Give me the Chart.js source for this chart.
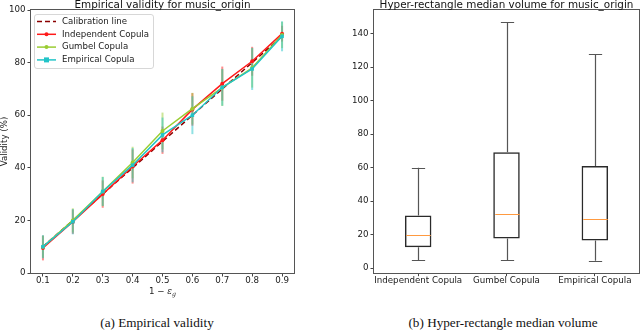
<!DOCTYPE html>
<html>
<head>
<meta charset="utf-8">
<script src="https://cdn.jsdelivr.net/npm/chart.js@4/dist/chart.umd.min.js"></script>
<style>
  html, body { margin: 0; padding: 0; background: #fff; width: 640px; height: 333px; overflow: hidden; }
  #wrapL { position: absolute; left: 0; top: 0; width: 320px; height: 300px; }
  #wrapR { position: absolute; left: 320px; top: 0; width: 320px; height: 300px; }
  .cap { position: absolute; top: 315px; font-family: "Liberation Serif", "Times New Roman", serif; font-size: 13.2px; color: #111; text-align: center; white-space: nowrap; }
</style>
</head>
<body>
<div id="wrapL"><canvas id="left" width="320" height="300"></canvas></div>
<div id="wrapR"><canvas id="right" width="320" height="300"></canvas></div>
<div class="cap" style="left:57px;width:200px;">(a) Empirical validity</div>
<div class="cap" style="left:383px;width:240px;">(b) Hyper-rectangle median volume</div>
<script>
// ---------- Data: left panel (empirical validity) ----------
const xValues = [0.1, 0.2, 0.3, 0.4, 0.5, 0.6, 0.7, 0.8, 0.9];
const xTickValues = [0.1, 0.2, 0.3, 0.4, 0.5, 0.6, 0.7, 0.8, 0.9];
const yTickValues = [0, 20, 40, 60, 80, 100];
const calibration = [10, 20, 30, 40, 50, 60, 70, 80, 90];
const independent = [9.5, 19.5, 30, 40.5, 50.5, 62.2, 72, 80.5, 91];
const independentErr = [4.7, 4.6, 5.2, 6.5, 5.2, 6.2, 6.5, 5.5, 3.0];
const gumbel = [10, 20, 31, 42, 54, 62.5, 70.5, 78, 90.5];
const gumbelErr = [4.2, 4.6, 5.6, 6.0, 7.0, 6.0, 7.0, 7.5, 5.0];
const empirical = [10, 19.5, 31, 41, 52.5, 60, 70.6, 77.6, 90];
const empiricalErr = [4.4, 4.8, 5.5, 6.5, 6.6, 7.2, 7.0, 8.0, 5.7];

// ---------- Data: right panel (box plot) ----------
const boxLabels = ['Independent Copula', 'Gumbel Copula', 'Empirical Copula'];
const whiskerLow = [4.8, 4.8, 4.4];
const quartile1 = [12.5, 17.7, 16.5];
const medians = [19.7, 32.2, 29.2];
const quartile3 = [31.4, 69.2, 61.0];
const whiskerHigh = [60.0, 147.0, 127.8];
const boxYTicks = [0, 20, 40, 60, 80, 100, 120, 140];

const TICK_FONT = { family: 'DejaVu Sans', size: 8.7 };
const TEXT_COLOR = '#1a1a1a';

function pts(ys) { return xValues.map((x, i) => ({ x: x, y: ys[i] })); }

// ---------- Left chart ----------
const seriesL = [
  { label: 'Calibration line', data: calibration, err: null, color: '#8b0000', dash: [5, 3], style: false, r: 0 },
  { label: 'Independent Copula', data: independent, err: independentErr, color: '#ff1a1a', dash: [], style: 'circle', r: 2 },
  { label: 'Gumbel Copula', data: gumbel, err: gumbelErr, color: '#9acd32', dash: [], style: 'circle', r: 2 },
  { label: 'Empirical Copula', data: empirical, err: empiricalErr, color: '#22c4c8', dash: [], style: 'rect', r: 2.5 }
];

const leftPlugin = {
  id: 'leftDecor',
  beforeDatasetsDraw(chart) {
    const ctx = chart.ctx, xs = chart.scales.x, ys = chart.scales.y;
    ctx.save();
    ctx.globalAlpha = 0.5;
    ctx.lineWidth = 2;
    seriesL.forEach(s => {
      if (!s.err) return;
      ctx.strokeStyle = s.color;
      s.data.forEach((v, i) => {
        const px = xs.getPixelForValue(xValues[i]);
        ctx.beginPath();
        ctx.moveTo(px, ys.getPixelForValue(v - s.err[i]));
        ctx.lineTo(px, ys.getPixelForValue(v + s.err[i]));
        ctx.stroke();
      });
    });
    ctx.restore();
  },
  afterDraw(chart) {
    const ctx = chart.ctx, a = chart.chartArea;
    ctx.save();
    // frame
    ctx.strokeStyle = '#555';
    ctx.lineWidth = 1;
    ctx.strokeRect(Math.round(a.left) - 0.5, Math.round(a.top) - 0.5, Math.round(a.right - a.left) + 1, Math.round(a.bottom - a.top) + 1);
    // title
    ctx.fillStyle = '#111';
    ctx.font = '10.4px "DejaVu Sans"';
    ctx.textAlign = 'center';
    ctx.textBaseline = 'alphabetic';
    ctx.fillText('Empirical validity for music_origin', (a.left + a.right) / 2, 8);
    // y label
    ctx.save();
    ctx.translate(5, (a.top + a.bottom) / 2);
    ctx.rotate(-Math.PI / 2);
    ctx.textBaseline = 'middle';
    ctx.font = '8.7px "DejaVu Sans"';
    ctx.fillStyle = TEXT_COLOR;
    ctx.fillText('Validity (%)', 0, 0);
    ctx.restore();
    // x label: 1 − ε_g
    const cx = (a.left + a.right) / 2, by = 294;
    const p1 = '1 \u2212 ';
    ctx.font = '8.7px "DejaVu Sans"';
    const w1 = ctx.measureText(p1).width;
    ctx.font = 'italic 8.7px "DejaVu Serif"';
    const w2 = ctx.measureText('\u03b5').width;
    ctx.font = 'italic 6.2px "DejaVu Serif"';
    const w3 = ctx.measureText('g').width;
    let x0 = cx - (w1 + w2 + w3) / 2;
    ctx.textAlign = 'left';
    ctx.fillStyle = TEXT_COLOR;
    ctx.font = '8.7px "DejaVu Sans"';
    ctx.fillText(p1, x0, by);
    ctx.font = 'italic 8.7px "DejaVu Serif"';
    ctx.fillText('\u03b5', x0 + w1, by);
    ctx.font = 'italic 6.2px "DejaVu Serif"';
    ctx.fillText('g', x0 + w1 + w2, by + 2);
    // legend
    const lx = 34, ly = 14, lw = 119, lh = 54;
    ctx.globalAlpha = 0.85;
    ctx.fillStyle = '#fff';
    ctx.strokeStyle = '#d0d0d0';
    ctx.beginPath();
    ctx.roundRect(lx + 0.5, ly + 0.5, lw, lh, 2.5);
    ctx.fill();
    ctx.stroke();
    ctx.globalAlpha = 1;
    seriesL.forEach((s, i) => {
      const yy = 21.5 + i * 12.8;
      ctx.strokeStyle = s.color;
      ctx.lineWidth = 1.5;
      ctx.setLineDash(s.dash);
      ctx.beginPath();
      ctx.moveTo(37, yy);
      ctx.lineTo(56, yy);
      ctx.stroke();
      ctx.setLineDash([]);
      if (s.style) {
        ctx.fillStyle = s.color;
        if (s.style === 'rect') ctx.fillRect(46.5 - s.r, yy - s.r, 2 * s.r, 2 * s.r);
        else { ctx.beginPath(); ctx.arc(46.5, yy, s.r, 0, Math.PI * 2); ctx.fill(); }
      }
      ctx.fillStyle = TEXT_COLOR;
      ctx.font = '8.6px "DejaVu Sans"';
      ctx.textAlign = 'left';
      ctx.textBaseline = 'middle';
      ctx.fillText(s.label, 62, yy);
    });
    ctx.restore();
  }
};

new Chart(document.getElementById('left'), {
  type: 'scatter',
  data: {
    datasets: seriesL.map((s, i) => ({
      label: s.label,
      data: pts(s.data),
      order: seriesL.length - i,
      showLine: true,
      borderColor: s.color,
      backgroundColor: s.color,
      borderWidth: 1.5,
      borderDash: s.dash,
      pointStyle: s.style || 'circle',
      pointRadius: s.r,
      pointBorderWidth: 0,
      pointHoverRadius: s.r,
      tension: 0
    }))
  },
  options: {
    responsive: false,
    animation: false,
    events: [],
    layout: { padding: { top: 10, right: 26, left: 0, bottom: 0 } },
    plugins: { legend: { display: false }, tooltip: { enabled: false }, title: { display: false } },
    scales: {
      x: {
        type: 'linear', min: 0.06, max: 0.94,
        afterBuildTicks: s => { s.ticks = xTickValues.map(v => ({ value: v })); },
        afterFit: s => { s.height = 27; },
        ticks: { font: TICK_FONT, color: TEXT_COLOR, padding: -1, maxRotation: 0, autoSkip: false, callback: v => v.toFixed(1) },
        grid: { drawOnChartArea: false, drawTicks: true, tickLength: 3.5, color: '#444' },
        border: { display: false }
      },
      y: {
        type: 'linear', min: 0, max: 100,
        afterBuildTicks: s => { s.ticks = yTickValues.map(v => ({ value: v })); },
        afterFit: s => { s.width = 31; },
        ticks: { font: TICK_FONT, color: TEXT_COLOR, padding: 2, callback: v => String(v) },
        grid: { drawOnChartArea: false, drawTicks: true, tickLength: 3.5, color: '#444' },
        border: { display: false }
      }
    }
  },
  plugins: [leftPlugin]
});

// ---------- Right chart (box plot) ----------
const lo = Math.min(...whiskerLow), hi = Math.max(...whiskerHigh);
const pad = (hi - lo) * 0.05;

const boxPlugin = {
  id: 'boxDecor',
  afterDatasetsDraw(chart) {
    const ctx = chart.ctx, ys = chart.scales.y;
    const meta = chart.getDatasetMeta(0);
    ctx.save();
    boxLabels.forEach((lab, i) => {
      const bar = meta.data[i];
      const cx = Math.round(bar.x) + 0.5;
      const halfBox = bar.width / 2;
      const halfCap = halfBox / 2;
      ctx.lineWidth = 1.2;
      ctx.strokeStyle = '#555';
      // whiskers
      ctx.beginPath();
      ctx.moveTo(cx, ys.getPixelForValue(quartile1[i]));
      ctx.lineTo(cx, ys.getPixelForValue(whiskerLow[i]));
      ctx.moveTo(cx, ys.getPixelForValue(quartile3[i]));
      ctx.lineTo(cx, ys.getPixelForValue(whiskerHigh[i]));
      ctx.stroke();
      // caps
      ctx.beginPath();
      const yl = Math.round(ys.getPixelForValue(whiskerLow[i])) + 0.5;
      const yh = Math.round(ys.getPixelForValue(whiskerHigh[i])) + 0.5;
      ctx.moveTo(cx - halfCap, yl); ctx.lineTo(cx + halfCap, yl);
      ctx.moveTo(cx - halfCap, yh); ctx.lineTo(cx + halfCap, yh);
      ctx.stroke();
      // median
      ctx.strokeStyle = '#ff9a40';
      ctx.lineWidth = 1;
      const ym = Math.round(ys.getPixelForValue(medians[i])) + 0.5;
      ctx.beginPath();
      ctx.moveTo(cx - halfBox + 1, ym); ctx.lineTo(cx + halfBox - 1, ym);
      ctx.stroke();
    });
    ctx.restore();
  },
  afterDraw(chart) {
    const ctx = chart.ctx, a = chart.chartArea;
    ctx.save();
    ctx.strokeStyle = '#555';
    ctx.lineWidth = 1;
    ctx.strokeRect(Math.round(a.left) - 0.5, Math.round(a.top) - 0.5, Math.round(a.right - a.left) + 1, Math.round(a.bottom - a.top) + 1);
    ctx.fillStyle = '#111';
    ctx.font = '10.4px "DejaVu Sans"';
    ctx.textAlign = 'center';
    ctx.textBaseline = 'alphabetic';
    ctx.fillText('Hyper-rectangle median volume for music_origin', (a.left + a.right) / 2, 8);
    ctx.restore();
  }
};

new Chart(document.getElementById('right'), {
  type: 'bar',
  data: {
    labels: boxLabels,
    datasets: [{
      label: 'IQR',
      data: boxLabels.map((l, i) => [quartile1[i], quartile3[i]]),
      backgroundColor: 'rgba(0,0,0,0)',
      borderColor: '#2a2a2a',
      borderWidth: 1.5,
      borderSkipped: false,
      categoryPercentage: 1,
      barPercentage: 0.3
    }]
  },
  options: {
    responsive: false,
    animation: false,
    events: [],
    layout: { padding: { top: 10, right: 1, left: 0, bottom: 0 } },
    plugins: { legend: { display: false }, tooltip: { enabled: false }, title: { display: false } },
    scales: {
      x: {
        type: 'category',
        afterFit: s => { s.height = 27.3; },
        ticks: { font: TICK_FONT, color: TEXT_COLOR, padding: -1, maxRotation: 0, autoSkip: false },
        grid: { offset: false, drawOnChartArea: false, drawTicks: true, tickLength: 3.5, color: '#444' },
        border: { display: false }
      },
      y: {
        type: 'linear', min: lo - pad, max: hi + pad,
        afterBuildTicks: s => { s.ticks = boxYTicks.map(v => ({ value: v })); },
        afterFit: s => { s.width = 54; },
        ticks: { font: TICK_FONT, color: TEXT_COLOR, padding: 2, callback: v => String(v) },
        grid: { drawOnChartArea: false, drawTicks: true, tickLength: 3.5, color: '#444' },
        border: { display: false }
      }
    }
  },
  plugins: [boxPlugin]
});
</script>
</body>
</html>
